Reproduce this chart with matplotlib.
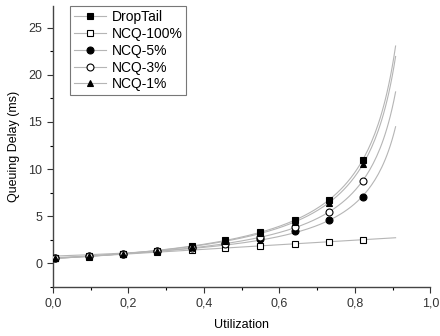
#!/usr/bin/env python3
"""
Queuing delay vs utilization for DropTail and NCQ variants
"""

import numpy as np
import matplotlib
matplotlib.use('Agg')
import matplotlib.pyplot as plt
from matplotlib.ticker import MultipleLocator, FuncFormatter

plt.rcParams['font.family'] = ['Liberation Sans', 'DejaVu Sans']

utilization = [0.005, 0.095, 0.185, 0.277, 0.368, 0.457, 0.549, 0.641, 0.732, 0.821]

droptail = [0.55, 0.75, 1.00, 1.35, 1.80, 2.45, 3.35, 4.60, 6.70, 11.0]
ncq_100 = [0.55, 0.72, 0.95, 1.20, 1.45, 1.60, 1.85, 2.10, 2.30, 2.50]
ncq_5 = [0.55, 0.75, 1.00, 1.30, 1.70, 2.20, 2.55, 3.40, 4.60, 7.00]
ncq_3 = [0.55, 0.74, 0.98, 1.28, 1.65, 2.10, 2.80, 3.90, 5.50, 8.70]
ncq_1 = [0.55, 0.75, 1.00, 1.33, 1.78, 2.40, 3.20, 4.40, 6.40, 10.5]

series = [
    ('DropTail', droptail, 's', 'black', 'mm1'),
    ('NCQ-100%', ncq_100, 's', 'white', 'poly'),
    ('NCQ-5%', ncq_5, 'o', 'black', 'mm1'),
    ('NCQ-3%', ncq_3, 'o', 'white', 'mm1'),
    ('NCQ-1%', ncq_1, '^', 'black', 'mm1'),
]

FIT_END = 0.908
CURVE_GRAY = '#b5b5b5'


def fit_curve(x, y, kind, xs):
    """Least-squares fit: a + b*x/(1-x) for queue growth, quadratic otherwise"""
    x = np.asarray(x)
    y = np.asarray(y)
    if kind == 'mm1':
        A = np.column_stack([np.ones_like(x), x / (1 - x)])
        coef, *_ = np.linalg.lstsq(A, y, rcond=None)
        return coef[0] + coef[1] * xs / (1 - xs)
    p = np.polyfit(x, y, 2)
    return np.polyval(p, xs)


fig = plt.figure(figsize=(4.4, 3.36), dpi=100)
ax = fig.add_axes([0.12, 0.146, 0.858, 0.836])

xs = np.linspace(0, FIT_END, 200)
for label, vals, marker, face, kind in series:
    ax.plot(xs, fit_curve(utilization, vals, kind, xs), color=CURVE_GRAY, lw=0.8, zorder=1)
    ax.plot(utilization, vals, linestyle='none', marker=marker, markersize=5,
            markerfacecolor=face, markeredgecolor='black', markeredgewidth=0.8, zorder=3)
    # legend proxy with gray connecting line
    ax.plot([], [], color=CURVE_GRAY, lw=0.8, marker=marker, markersize=5,
            markerfacecolor=face, markeredgecolor='black', markeredgewidth=0.8, label=label)

ax.set_xlim(0, 1.0)
ax.set_ylim(-2.5, 27.3)
ax.xaxis.set_major_locator(MultipleLocator(0.2))
ax.xaxis.set_minor_locator(MultipleLocator(0.1))
ax.yaxis.set_major_locator(MultipleLocator(5))
ax.yaxis.set_minor_locator(MultipleLocator(2.5))
ax.xaxis.set_major_formatter(FuncFormatter(lambda v, p: f'{v:.1f}'.replace('.', ',')))
ax.tick_params(which='major', direction='out', length=4, width=0.8, labelsize=9, colors='#333333')
ax.tick_params(which='minor', direction='out', length=2.5, width=0.8)

for side in ['top', 'right']:
    ax.spines[side].set_visible(False)
for side in ['left', 'bottom']:
    ax.spines[side].set_linewidth(1.0)
    ax.spines[side].set_color('#444444')

ax.set_xlabel('Utilization', fontsize=9, labelpad=7)
ax.set_ylabel('Queuing Delay (ms)', fontsize=9, labelpad=6)

leg = ax.legend(loc='upper left', bbox_to_anchor=(0.045, 1.0), fontsize=10,
                frameon=True, fancybox=False, labelspacing=0.2, handlelength=2.3,
                handletextpad=0.4, borderpad=0.3, borderaxespad=0.0)
leg.get_frame().set_edgecolor('#555555')
leg.get_frame().set_linewidth(0.8)

plt.savefig('out.png', dpi=100)
plt.close()
